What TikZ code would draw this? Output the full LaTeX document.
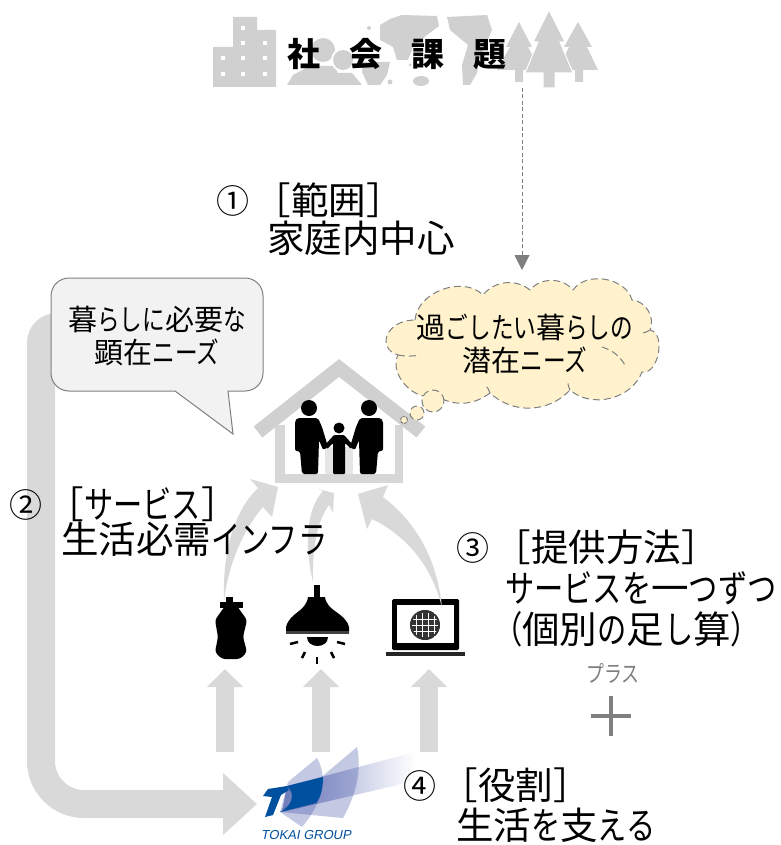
\documentclass[tikz,border=0pt]{standalone}
\usepackage{fontspec}
\usetikzlibrary{arrows.meta}
\setmainfont{Noto Sans CJK JP}
\newfontfamily\kanafont[FakeStretch=0.78]{Noto Sans CJK JP}
\newfontfamily\logofont[FakeSlant=0.2]{Liberation Sans}
\newcommand{\kn}[1]{{\kanafont #1}}
\newcommand{\nm}[1]{\raisebox{1pt}{\fontsize{33}{33}\selectfont #1}\hspace{-4pt}}
\definecolor{icongray}{HTML}{D0D0D0}
\definecolor{arrowgray}{HTML}{D9D9D9}
\definecolor{linegray}{HTML}{7F7F7F}
\definecolor{callfill}{HTML}{F2F2F2}
\definecolor{cloudfill}{HTML}{FFF2CC}
\definecolor{tokaiblue}{HTML}{0050A0}
\definecolor{beamblue}{HTML}{2A3C9C}
\tikzset{
  lbl/.style={inner sep=0pt,anchor=west,align=left,font=\fontsize{37.5}{#1}\selectfont},
  bubbletext/.style={inner sep=0pt,align=center,font=\fontsize{29}{33}\selectfont},
  uparrow/.style={draw=arrowgray,line width=17.5pt,-{Triangle[length=18pt,width=35pt]}},
  bigarrow/.style={draw=arrowgray,line width=28pt,-{Triangle[length=34pt,width=60pt]}},
  curvedarrow/.style={fill=arrowgray},
  beam/.style={fill=beamblue,fill opacity=.28},
  puff/.style={draw=linegray,fill=cloudfill,dash pattern=on 7pt off 4pt,line width=1pt},
  adult/.pic={
    \fill (0,408) circle (8pt);
    \fill[rounded corners=2pt] (-12,418) -- (9,418) -- (13,427) -- (19,447) -- (14,450) -- (10,440)
      -- (9,474) -- (-7,474) -- (-9,451) -- (-14,451) -- (-14,421) -- cycle;
  }
}
\begin{document}
\begin{tikzpicture}[x=1pt,y=-1pt]
  \useasboundingbox (0,0) rectangle (780,845);
  \coordinate (mapend) at (522,88);
  \coordinate (needend) at (522,270);
  \coordinate (bubblestart) at (62,327);
  \coordinate (logotip) at (257,804);
  \coordinate (bottlebase) at (225,752);
  \coordinate (bottlefoot) at (225,669);
  \coordinate (lampbase) at (321,752);
  \coordinate (lampfoot) at (321,669);
  \coordinate (laptopbase) at (429,752);
  \coordinate (laptopfoot) at (429,669);
  \coordinate (bottletop) at (224,602);
  \coordinate (lamptop) at (313,582);
  \coordinate (laptoptop) at (442,608);
  \begin{scope}[fill=icongray]
    \fill (213,47) -- (233,47) -- (233,17) -- (257,17) -- (257,30) -- (276,30) -- (276,87) -- (213,87) -- cycle;
    \foreach \wx/\wy in {243/28,243/43,265/43,223/58,243/58,265/58,223/74,243/74,265/74}
      \fill[white] (\wx-2,\wy-2) rectangle (\wx+2,\wy+2);
    \fill (323,50) circle (12pt);
    \fill (287,85) -- (293,75) -- (310,66) -- (335,66) -- (342,85) -- cycle;
    \fill[white] (343,60) circle (12pt);
    \fill (343,60) circle (10pt);
    \fill (330,85) -- (338,73) -- (352,73) -- (362,85) -- cycle;
    \fill (380,25) -- (390,19) -- (402,15) -- (437,16) -- (439,26) -- (427,35) -- (413,47) -- (408,60)
      -- (397,60) -- (393,47) -- (380,40) -- cycle;
    \fill (363,62) -- (390,62) -- (387,75) -- (380,85) -- (368,85) -- (362,72) -- cycle;
    \fill (369,28) circle (2pt);
    \fill (390,82) circle (2.5pt);
    \fill (410,65) circle (1.5pt);
    \fill (421,81) ellipse (8pt and 5pt);
    \fill (447,17) -- (487,15) -- (492,30) -- (480,57) -- (477,73) -- (470,85) -- (463,85) -- (462,65)
      -- (468,45) -- (450,30) -- cycle;
    \fill (519,22) -- (532,47) -- (528,47) -- (540,70) -- (523,70) -- (523,82) -- (515,82) -- (515,70)
      -- (497,70) -- (510,47) -- (506,47) -- cycle;
    \fill (578,22) -- (592,47) -- (587,47) -- (598,70) -- (583,70) -- (583,82) -- (575,82) -- (575,70)
      -- (558,70) -- (569,47) -- (564,47) -- cycle;
    \fill[draw=white,line width=1pt] (549,10) -- (565,42) -- (560,42) -- (573,73) -- (555,73) -- (555,88)
      -- (543,88) -- (543,73) -- (525,73) -- (538,42) -- (533,42) -- cycle;
  \end{scope}
  \fill[icongray!85] (275,425) rectangle (403,483);
  \fill[white] (285,405) rectangle (395,474);
  \fill[icongray!55] (325,447) rectangle (353,474);
  \draw[icongray,line width=14pt,line join=miter] (258,432) -- (339,368) -- (421,432);
  \pic at (309,0) {adult};
  \pic[xscale=-1] at (369,0) {adult};
  \fill (339,428) circle (5.5pt);
  \fill[rounded corners=1pt] (334,435) -- (344,435) -- (353,445) -- (351,449) -- (345,443) -- (345,474)
    -- (333,474) -- (333,443) -- (327,449) -- (325,445) -- cycle;
  \fill (226,597) rectangle (233,602);
  \fill (220,602) rectangle (243,608);
  \fill[rounded corners=3pt] (225,606) -- (237,606) -- (247,620) -- (243,637) -- (247,652) -- (240,659)
    -- (222,659) -- (215,652) -- (218,637) -- (215,620) -- cycle;
  \fill (314,585) rectangle (320,598);
  \fill (308,597) -- (325,597) .. controls (327,612) and (345,612) .. (349,627) -- (349,633) -- (286,633)
    -- (286,627) .. controls (290,612) and (306,612) .. (308,597) -- cycle;
  \fill[black!75] (286,631) rectangle (349,634);
  \fill (307,637) -- (328,637) .. controls (328,649) and (307,649) .. (307,637) -- cycle;
  \draw[line width=2.5pt] (290,644) -- (298,642);
  \draw[line width=2.5pt] (337,642) -- (345,644);
  \draw[line width=2.5pt] (305,652) -- (302,658);
  \draw[line width=2.5pt] (331,652) -- (334,658);
  \draw[line width=2.5pt] (317,657) -- (317,664);
  \fill[rounded corners=1.5pt] (392,599) rectangle (459,650);
  \fill[white] (397,605) rectangle (454,643);
  \fill[black!85] (386,652) rectangle (465,656);
  \fill[black!80] (425,625) circle (15pt);
  \foreach \gx in {-9,-3,3,9}
    \draw[white,line width=.8pt] (425+\gx,613) -- (425+\gx,637);
  \foreach \gy in {-6,0,6}
    \draw[white,line width=.8pt] (412,625+\gy) -- (438,625+\gy);
  \draw[black!80,line width=1.5pt] (425,625) circle (14pt);
  \begin{scope}[-]
    \draw[bigarrow] (bubblestart) [rounded corners=16pt] -- (41,327) [rounded corners=43pt] -- (41,804) -- (logotip);
    \draw[uparrow] (bottlebase) to (bottlefoot);
    \draw[uparrow] (lampbase) to (lampfoot);
    \draw[uparrow] (laptopbase) to (laptopfoot);
    \fill[curvedarrow] (bottletop) .. controls (222,550) and (235,510) .. (258,488) -- (250,479) -- (278,487)
      -- (272,517) -- (263,507) .. controls (243,530) and (228,565) .. (bottletop) -- cycle;
    \fill[curvedarrow] (lamptop) .. controls (305,550) and (305,510) .. (323,491) -- (318,489) -- (334,493)
      -- (333,513) -- (329,505) .. controls (318,520) and (312,545) .. (lamptop) -- cycle;
    \fill[curvedarrow] (laptoptop) .. controls (438,565) and (420,525) .. (383,497) -- (388,485) -- (358,494)
      -- (367,529) -- (372,519) .. controls (405,535) and (432,565) .. (laptoptop) -- cycle;
    \draw[linegray,dash pattern=on 4pt off 2.5pt,line width=1pt,-{Triangle[length=15pt,width=15pt]}] (mapend) to (needend);
  \end{scope}
  \draw[draw=linegray,fill=callfill,line width=1pt,rounded corners=18pt] (51,278) -- (263,278) -- (263,391)
    [sharp corners] -- (228,391) -- (233,434) -- (175,391) [rounded corners=18pt] -- (51,391) -- cycle;
  \draw[puff] (415,320) to[bend left=65] (483,295) to[bend left=45] (530,290) to[bend left=50] (573,290)
    to[bend left=65] (632,300) to[bend left=55] (650,330) to[bend left=90] (642,372) to[bend left=55] (570,390)
    to[bend left=45] (490,393) to[bend left=35] (435,395) to[bend left=70] (398,355)
    .. controls (376,348) and (386,320) .. (415,320) -- cycle;
  \draw[puff,fill=none] (398,355) to[bend right=10] (420,355);
  \draw[puff,fill=none] (602,347) to[bend left=20] (625,365);
  \draw[puff,fill=none] (643,333) to[bend right=10] (653,328);
  \draw[puff,fill=none] (570,390) to[bend left=15] (568,380);
  \draw[puff,fill=none] (490,393) to[bend right=15] (485,385);
  \draw[puff] (433,401) circle (11pt);
  \draw[puff] (417,413) circle (7pt);
  \draw[puff,dash pattern=on 3pt off 1pt] (404,420) circle (3.5pt);
  \draw[linegray,line width=4pt] (591,716) -- (631,716);
  \draw[linegray,line width=4pt] (611,696) -- (611,736);
  \shade[left color=beamblue!55,right color=white] (287,786) -- (415,752) -- (415,781) -- (282,812) -- cycle;
  \fill[beam] (280,812) -- (357,747) .. controls (362,770) and (356,795) .. (343,818) -- cycle;
  \fill[beam] (280,812) -- (288,782) -- (317,758) .. controls (327,775) and (325,800) .. (302,827) -- cycle;
  \fill[tokaiblue] (287,786) -- (323,777) .. controls (323,788) and (321,797) .. (316,803) -- (280,812)
    .. controls (290,808) and (297,795) .. (287,786) -- cycle;
  \fill[tokaiblue] (263,796) -- (268,789) -- (287,786) -- (289,790) -- (281,795) -- (273,815) -- (265,817) -- (272,797) -- cycle;
  \draw
    (397,54) node[inner sep=0pt,font=\fontsize{33}{33}\selectfont\bfseries] (title){社\hspace{29pt}会\hspace{29pt}課\hspace{29pt}題}
    (216,219) node[lbl=38] (scope){\nm{①} ［範囲］\\\hspace*{51pt}家庭内中心}
    (157,336) node[bubbletext] (need){暮\kn{らしに}必要\kn{な}\\顕在\kn{ニーズ}}
    (525,344) node[bubbletext] (latent){過\kn{ごしたい}暮\kn{らしの}\\潜在\kn{ニーズ}}
    (9,522) node[lbl=35] (service){\nm{②} ［\kn{サービス}］\\\hspace*{52pt}生活必需\kn{インフラ}}
    (456,588) node[lbl=41] (offer){\nm{③} ［提供方法］\\\hspace*{49pt}\kn{サービスを}一\kn{つずつ}\\\hspace*{37pt}\kn{（}個別\kn{の}足\kn{し}算\kn{）}}
    (613,673) node[inner sep=0pt,text=linegray,font=\fontsize{23}{23}\selectfont] (plus){\kn{プラス}}
    (403,805) node[lbl=40] (role){\nm{④} ［役割］\\\hspace*{53pt}生活\kn{を}支\kn{える}}
    (306,835) node[inner sep=0pt,text=tokaiblue,font=\logofont\fontsize{13}{13}\selectfont] (tokai){TOKAI GROUP};
\end{tikzpicture}
\end{document}
